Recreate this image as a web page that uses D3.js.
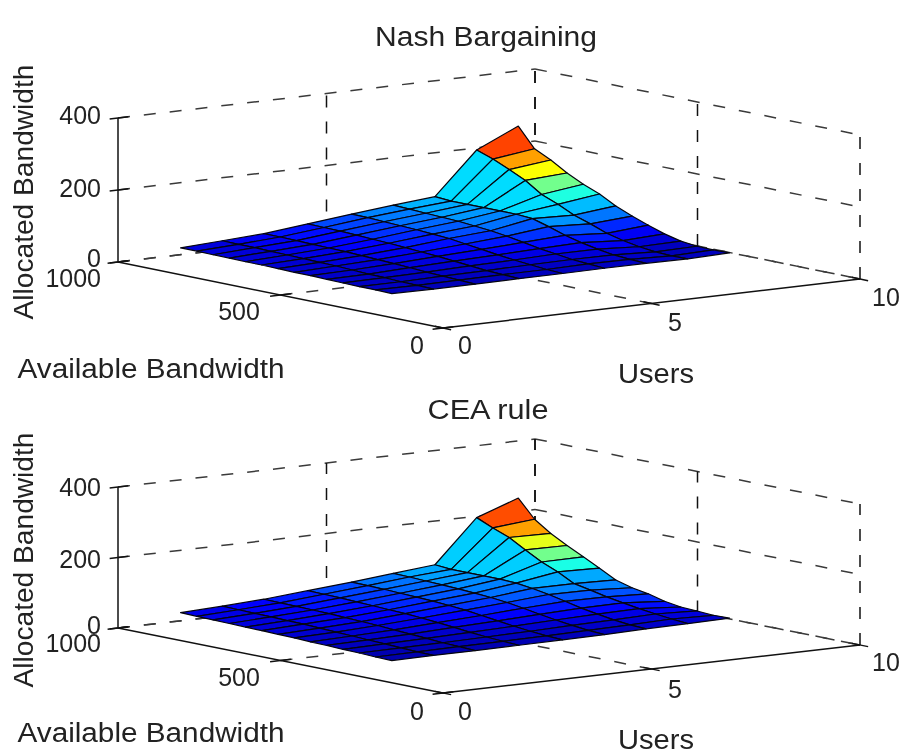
<!DOCTYPE html>
<html>
<head>
<meta charset="utf-8">
<script src="https://cdn.jsdelivr.net/npm/d3@7"></script>
<style>
  body { margin: 0; background: #fff; }
  svg { display: block; filter: blur(0.5px); }
  text { font-family: "Liberation Sans", Arial, sans-serif; fill: #222; }
</style>
</head>
<body>
<svg id="chart" width="912" height="756"></svg>
<script>
// surface grid: rows go from back (1000) to front, columns left to right
var users = [1.5, 2.5, 3.5, 4.55, 5.6, 6.6, 7.6, 8.6, 9.6];
var available = [1000, 950, 900, 850, 800, 750, 700, 650, 600, 550, 500, 450, 400, 350];

var nashValues = [
  [19, 25, 31, 44, 57, 68, 78, 194, 247],
  [19, 24, 31, 43, 56, 66, 75, 178, 193],
  [18, 24, 30, 42, 54, 64, 75, 158, 171],
  [18, 23, 29, 40, 52, 62, 75, 137, 144],
  [17, 22, 28, 38, 50, 60, 75, 107, 122],
  [17, 21, 27, 36, 47, 56, 75, 89, 104],
  [16, 20, 25, 33, 44, 52, 72, 68, 80],
  [15, 19, 23, 30, 38, 46, 59, 53, 61],
  [15, 17, 21, 27, 32, 38, 44, 36, 45],
  [14, 15, 19, 23, 26, 30, 33, 25, 30],
  [13, 14, 16, 19, 21, 24, 24, 17, 19],
  [12, 12, 14, 15, 17, 18, 17, 12, 14],
  [12, 11, 12, 13, 13, 15, 14, 10, 13],
  [11, 10, 10, 11, 11, 12, 12, 11, 14]
];

var ceaValues = [
  [23, 28, 34, 44, 54, 65, 76, 196, 238],
  [22, 27, 33, 43, 53, 64, 72, 176, 187],
  [21, 26, 32, 42, 52, 62, 72, 158, 156],
  [20, 25, 31, 40, 50, 60, 72, 132, 131],
  [19, 24, 30, 38, 48, 58, 72, 107, 108],
  [18, 23, 28, 36, 46, 55, 70, 88, 85],
  [17, 21, 26, 34, 43, 52, 64, 64, 61],
  [16, 19, 24, 31, 39, 47, 56, 55, 48],
  [14, 17, 21, 27, 33, 40, 46, 45, 40],
  [13, 15, 18, 23, 27, 32, 36, 37, 28],
  [11, 13, 15, 18, 21, 25, 28, 30, 21],
  [10, 11, 12, 14, 16, 19, 21, 24, 19],
  [8, 9, 10, 11, 12, 14, 16, 19, 16],
  [7, 8, 8, 9, 10, 11, 14, 15, 17]
];

var userTicks = [0, 5, 10];
var availableTicks = [0, 500, 1000];
var allocatedTicks = [0, 200, 400];

var svg = d3.select('#chart');

// matlab jet, colour limit
var jet = d3.scaleLinear()
  .domain([0, 27.5, 82.5, 137.5, 192.5, 220])
  .range(['#00008f', '#0000ff', '#00ffff', '#ffff00', '#ff0000', '#800000'])
  .clamp(true);

function drawPanel(cfg) {
  var g = svg.append('g');

  // each data axis moves a point along its own screen direction
  var uX = d3.scaleLinear().domain([0, 10]).range([0, cfg.uEnd[0] - cfg.origin[0]]);
  var uY = d3.scaleLinear().domain([0, 10]).range([0, cfg.uEnd[1] - cfg.origin[1]]);
  var bX = d3.scaleLinear().domain([0, 1000]).range([0, cfg.bEnd[0] - cfg.origin[0]]);
  var bY = d3.scaleLinear().domain([0, 1000]).range([0, cfg.bEnd[1] - cfg.origin[1]]);
  var zY = d3.scaleLinear().domain([0, 400]).range([0, -cfg.zHeight]);

  function project(u, b, z) {
    return [cfg.origin[0] + uX(u) + bX(b), cfg.origin[1] + uY(u) + bY(b) + zY(z)];
  }

  function segment(a, b, cls) {
    var upright = a[0] === b[0];
    g.append('line')
      .attr('class', cls)
      .attr('x1', a[0]).attr('y1', a[1])
      .attr('x2', b[0]).attr('y2', b[1])
      .attr('stroke', cls === 'grid' && !upright ? '#3a3a3a' : '#111')
      .attr('stroke-width', 1.5)
      .attr('stroke-dasharray', cls === 'grid' ? '12 14' : null);
  }

  // back walls and floor grid
  allocatedTicks.forEach(function(z) {
    segment(project(0, 1000, z), project(10, 1000, z), 'grid');
    segment(project(10, 1000, z), project(10, 0, z), 'grid');
  });
  userTicks.slice(1).forEach(function(u) {
    segment(project(u, 0, 0), project(u, 1000, 0), 'grid');
    segment(project(u, 1000, 0), project(u, 1000, 400), 'grid');
  });
  availableTicks.slice(1).forEach(function(b) {
    segment(project(0, b, 0), project(10, b, 0), 'grid');
    segment(project(10, b, 0), project(10, b, 400), 'grid');
  });
  segment(project(10, 0, 0), project(10, 0, 400), 'grid');

  // solid axes
  segment(project(0, 1000, 0), project(0, 1000, 400), 'axis');
  segment(project(0, 1000, 0), project(0, 0, 0), 'axis');
  segment(project(0, 0, 0), project(10, 0, 0), 'axis');

  allocatedTicks.forEach(function(z) {
    segment(project(-0.2, 1000, z), project(0.25, 1000, z), 'axis');
  });
  availableTicks.forEach(function(b) {
    segment(project(-0.25, b, 0), project(0.25, b, 0), 'axis');
  });
  userTicks.forEach(function(u) {
    segment(project(u, -25, 0), project(u, 25, 0), 'axis');
  });

  // surface cells, far ones first so the near ones cover them
  var cells = [];
  d3.range(available.length - 1).forEach(function(r) {
    d3.range(users.length - 2, -1, -1).forEach(function(c) {
      cells.push({ r: r, c: c });
    });
  });

  g.selectAll('path.cell')
    .data(cells)
    .join('path')
    .attr('class', 'cell')
    .attr('d', function(d) {
      var v = cfg.values;
      return d3.line()([
        project(users[d.c], available[d.r], v[d.r][d.c]),
        project(users[d.c + 1], available[d.r], v[d.r][d.c + 1]),
        project(users[d.c + 1], available[d.r + 1], v[d.r + 1][d.c + 1]),
        project(users[d.c], available[d.r + 1], v[d.r + 1][d.c])
      ]) + 'Z';
    })
    .attr('fill', function(d) { return jet(cfg.values[d.r + 1][d.c]); })
    .attr('stroke', '#05050f')
    .attr('stroke-width', 1.2)
    .attr('stroke-linejoin', 'round');

  // tick labels and titles; the reference text is a bit stretched sideways
  cfg.labels.forEach(function(l) {
    var t = g.append('text')
      .attr('x', l[1])
      .attr('y', l[2])
      .attr('text-anchor', l[3] || 'middle')
      .attr('font-size', l[4] || 25)
      .text(l[0]);
    if (l[5]) t.attr('transform', 'rotate(' + l[5] + ' ' + l[1] + ' ' + l[2] + ')');
    if (l[6]) t.attr('textLength', l[6]).attr('lengthAdjust', 'spacingAndGlyphs');
  });
}

drawPanel({
  values: nashValues,
  origin: [443, 328],
  uEnd: [860, 279],
  bEnd: [118, 262],
  zHeight: 144,
  labels: [
    ['Nash Bargaining', 486, 46, 'middle', 27, 0, 222],
    ['400', 101, 124, 'end'],
    ['200', 101, 197, 'end'],
    ['0', 101, 267, 'end'],
    ['1000', 101, 287, 'end'],
    ['500', 239, 320],
    ['0', 417, 354],
    ['0', 465, 354],
    ['5', 675, 331],
    ['10', 886, 306],
    ['Available Bandwidth', 151, 378, 'middle', 27, 0, 267],
    ['Users', 656, 383, 'middle', 27, 0, 76],
    ['Allocated Bandwidth', 33, 192, 'middle', 27, -90, 255]
  ]
});

drawPanel({
  values: ceaValues,
  origin: [443, 693],
  uEnd: [860, 645],
  bEnd: [118, 628],
  zHeight: 141,
  labels: [
    ['CEA rule', 488, 419, 'middle', 27, 0, 121],
    ['400', 101, 496, 'end'],
    ['200', 101, 568, 'end'],
    ['0', 101, 634, 'end'],
    ['1000', 101, 652, 'end'],
    ['500', 239, 686],
    ['0', 417, 720],
    ['0', 465, 720],
    ['5', 675, 698],
    ['10', 886, 671],
    ['Available Bandwidth', 151, 742, 'middle', 27, 0, 267],
    ['Users', 656, 749, 'middle', 27, 0, 76],
    ['Allocated Bandwidth', 33, 560, 'middle', 27, -90, 255]
  ]
});
</script>
</body>
</html>
